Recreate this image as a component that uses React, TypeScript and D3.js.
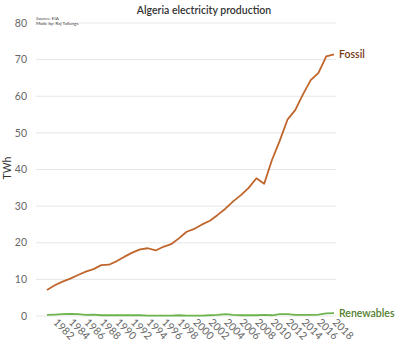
import React, { useRef, useEffect } from 'react';
import * as d3 from 'd3';

const years = [
  1981, 1982, 1983, 1984, 1985, 1986, 1987, 1988, 1989, 1990, 1991, 1992, 1993,
  1994, 1995, 1996, 1997, 1998, 1999, 2000, 2001, 2002, 2003, 2004, 2005, 2006,
  2007, 2008, 2009, 2010, 2011, 2012, 2013, 2014, 2015, 2016, 2017, 2018,
];

const fossil = [
  7.1, 8.4, 9.4, 10.2, 11.2, 12.1, 12.8, 13.9, 14.0, 15.0, 16.2, 17.3, 18.2,
  18.5, 17.9, 18.9, 19.6, 21.2, 23.0, 23.8, 25.0, 26.0, 27.6, 29.3, 31.3, 33.0,
  35.0, 37.6, 36.1, 42.6, 47.8, 53.6, 56.2, 60.5, 64.4, 66.4, 70.9, 71.4,
];

const renewables = [
  0.3, 0.4, 0.5, 0.6, 0.5, 0.3, 0.4, 0.2, 0.2, 0.2, 0.2, 0.2, 0.2, 0.1, 0.1,
  0.1, 0.1, 0.2, 0.1, 0.1, 0.1, 0.2, 0.3, 0.5, 0.3, 0.2, 0.2, 0.2, 0.3, 0.2,
  0.5, 0.5, 0.3, 0.3, 0.3, 0.4, 0.7, 0.8,
];

const yTicks = [0, 10, 20, 30, 40, 50, 60, 70, 80];
const xTickYears = d3.range(1982, 2019, 2);

const seriesNames = ['Fossil', 'Renewables'];

const FONT = 'Lato, "Open Sans", sans-serif';

export default function App() {
  const svgRef = useRef<SVGSVGElement>(null);

  useEffect(() => {
    const svg = d3.select(svgRef.current);
    svg.selectAll('*').remove();

    // scales
    const x = d3.scaleLinear().domain([1981, 2018]).range([47, 334]);
    const y = d3.scaleLinear().domain([0, 80]).range([316, 23]);

    // gridlines
    svg
      .append('g')
      .selectAll('line')
      .data(yTicks)
      .enter()
      .append('line')
      .attr('x1', 36)
      .attr('x2', 336)
      .attr('y1', (d) => y(d))
      .attr('y2', (d) => y(d))
      .attr('stroke', '#e6e6e6')
      .attr('stroke-width', 1);

    // y labels
    svg
      .append('g')
      .selectAll('text')
      .data(yTicks)
      .enter()
      .append('text')
      .attr('x', 27)
      .attr('y', (d) => y(d))
      .attr('dy', '0.35em')
      .attr('text-anchor', 'end')
      .attr('font-size', 10.5)
      .attr('fill', '#666')
      .attr('font-family', FONT)
      .text((d) => d);

    // x labels, rotated
    svg
      .append('g')
      .selectAll('text')
      .data(xTickYears)
      .enter()
      .append('text')
      .attr('transform', (d) => `translate(${x(d) - 2},${323}) rotate(45)`)
      .attr('font-size', 10.5)
      .attr('fill', '#666')
      .attr('font-family', FONT)
      .text((d) => d);

    const series = [fossil, renewables];
    const lineColors = ['#c0652b', '#6db44e'];
    const labelColors = ['#7a3a16', '#4f7d2c'];

    const myLine = d3
      .line<number>()
      .x((_, i) => x(years[i]))
      .y((d) => y(d));

    svg
      .append('g')
      .selectAll('path')
      .data(series)
      .enter()
      .append('path')
      .attr('d', (d) => myLine(d))
      .attr('fill', 'none')
      .attr('stroke', (_, i) => lineColors[i])
      .attr('stroke-width', 1.8)
      .attr('stroke-linejoin', 'round');

    // end labels
    svg
      .append('g')
      .selectAll('text')
      .data(series)
      .enter()
      .append('text')
      .attr('x', 339)
      .attr('y', (d) => y(d[d.length - 1]))
      .attr('dy', '0.35em')
      .attr('font-size', 10.5)
      .attr('font-weight', 600)
      .attr('fill', (_, i) => labelColors[i])
      .attr('font-family', FONT)
      .text((_, i) => seriesNames[i]);

    // title
    svg
      .append('text')
      .attr('x', 204)
      .attr('y', 14)
      .attr('text-anchor', 'middle')
      .attr('font-size', 10.5)
      .attr('font-weight', 600)
      .attr('fill', '#333')
      .attr('font-family', FONT)
      .text('Algeria electricity production');

    // source notes
    svg
      .append('text')
      .attr('x', 36)
      .attr('y', 20)
      .attr('font-size', 4.5)
      .attr('fill', '#444')
      .attr('font-family', FONT)
      .text('Source: EIA');
    svg
      .append('text')
      .attr('x', 36)
      .attr('y', 25)
      .attr('font-size', 4.5)
      .attr('fill', '#444')
      .attr('font-family', FONT)
      .text('Made by: Raj Tallungs');

    // y axis title
    svg
      .append('text')
      .attr('transform', 'translate(11,168) rotate(-90)')
      .attr('text-anchor', 'middle')
      .attr('font-size', 10.5)
      .attr('fill', '#333')
      .attr('font-family', FONT)
      .text('TWh');
  }, []);

  return (
    <div style={{ position: 'absolute', left: 0, top: 0 }}>
      <svg ref={svgRef} width={400} height={350} style={{ display: 'block', background: '#fff' }} />
    </div>
  );
}
